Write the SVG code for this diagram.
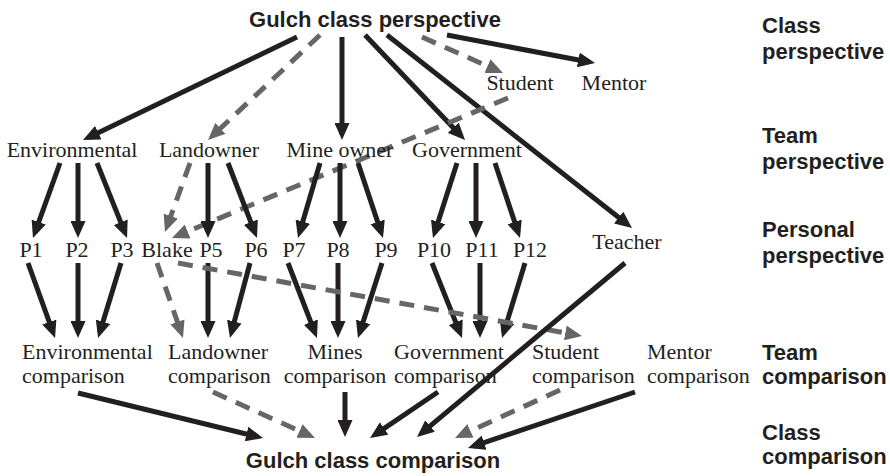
<svg xmlns="http://www.w3.org/2000/svg" width="890" height="476" viewBox="0 0 890 476">
<style>
.n{font-family:"Liberation Serif","Times New Roman",serif;font-size:22px;fill:#231f20}
.h{font-family:"Liberation Sans",Arial,sans-serif;font-size:22px;font-weight:bold;fill:#231f20}
.s{stroke:#231f20;stroke-width:5;fill:none;marker-end:url(#ab)}
.d{stroke:#666;stroke-width:5;fill:none;stroke-dasharray:15 10;marker-end:url(#ag)}
</style>
<defs>
<marker id="ab" markerUnits="userSpaceOnUse" viewBox="0 0 17 15" markerWidth="17" markerHeight="15" refX="11" refY="7.5" orient="auto"><path d="M0,0 L17,7.5 L0,15 z" fill="#231f20"/></marker>
<marker id="ag" markerUnits="userSpaceOnUse" viewBox="0 0 17 15" markerWidth="17" markerHeight="15" refX="11" refY="7.5" orient="auto"><path d="M0,0 L17,7.5 L0,15 z" fill="#666"/></marker>
</defs>
<rect width="890" height="476" fill="#fff"/>
<g id="connectors">
<line class="s" x1="297" y1="37" x2="88.4" y2="137.4"/>
<line class="d" x1="320" y1="35" x2="212.4" y2="135.9"/>
<line class="s" x1="342" y1="37" x2="342" y2="134"/>
<line class="s" x1="365" y1="35" x2="460.9" y2="135.7"/>
<line class="s" x1="387" y1="35" x2="627.3" y2="224.3"/>
<line class="d" x1="422" y1="37" x2="497.5" y2="70.6"/>
<line class="s" x1="447" y1="35" x2="589.1" y2="62"/>
<line class="d" x1="508" y1="98" x2="177.5" y2="235.7"/>
<line class="d" x1="190" y1="163" x2="167" y2="226.4"/>
<line class="s" x1="60" y1="163" x2="35" y2="232.4"/>
<line class="s" x1="78" y1="163" x2="78" y2="232"/>
<line class="s" x1="97" y1="163" x2="124.8" y2="232.4"/>
<line class="s" x1="208" y1="163" x2="208" y2="232"/>
<line class="s" x1="228" y1="163" x2="254.8" y2="232.4"/>
<line class="s" x1="320" y1="163" x2="299.7" y2="232.2"/>
<line class="s" x1="340" y1="163" x2="340" y2="232"/>
<line class="s" x1="358" y1="163" x2="381.1" y2="232.3"/>
<line class="s" x1="457" y1="163" x2="434.8" y2="232.3"/>
<line class="s" x1="476" y1="163" x2="476" y2="232"/>
<line class="s" x1="495" y1="163" x2="518.1" y2="232.3"/>
<line class="s" x1="28" y1="263" x2="53" y2="332.4"/>
<line class="s" x1="78" y1="263" x2="78" y2="332"/>
<line class="s" x1="121" y1="263" x2="99.8" y2="332.3"/>
<line class="d" x1="157" y1="263" x2="181" y2="332.3"/>
<line class="s" x1="208" y1="263" x2="208" y2="332"/>
<line class="s" x1="250" y1="263" x2="231.5" y2="332.2"/>
<line class="s" x1="288" y1="263" x2="314.8" y2="332.4"/>
<line class="s" x1="338" y1="263" x2="338" y2="332"/>
<line class="s" x1="382" y1="263" x2="359.8" y2="332.3"/>
<line class="s" x1="432" y1="263" x2="459.8" y2="332.4"/>
<line class="s" x1="480" y1="263" x2="480" y2="332"/>
<line class="s" x1="525" y1="263" x2="503.8" y2="332.3"/>
<line class="d" x1="178" y1="263" x2="576.1" y2="334.9"/>
<line class="s" x1="625" y1="263" x2="421.6" y2="433.1"/>
<line class="s" x1="78" y1="393" x2="257.2" y2="436.6"/>
<line class="d" x1="213" y1="392" x2="309.5" y2="435.5"/>
<line class="s" x1="345" y1="392" x2="345" y2="431"/>
<line class="s" x1="438" y1="392" x2="375" y2="434.6"/>
<line class="d" x1="560" y1="390" x2="460.5" y2="435.5"/>
<line class="s" x1="635" y1="392" x2="473.7" y2="446.1"/>
</g>
<g id="gulch-class-perspective"><text class="h" x="375" y="27" text-anchor="middle">Gulch class perspective</text></g>
<g id="student"><text class="n" x="520" y="90" text-anchor="middle">Student</text></g>
<g id="mentor"><text class="n" x="614" y="90" text-anchor="middle">Mentor</text></g>
<g id="environmental"><text class="n" x="72" y="157" text-anchor="middle">Environmental</text></g>
<g id="landowner"><text class="n" x="209" y="157" text-anchor="middle">Landowner</text></g>
<g id="mine-owner"><text class="n" x="340" y="157" text-anchor="middle">Mine owner</text></g>
<g id="government"><text class="n" x="467" y="157" text-anchor="middle">Government</text></g>
<g id="p1"><text class="n" x="31" y="257" text-anchor="middle">P1</text></g>
<g id="p2"><text class="n" x="77" y="257" text-anchor="middle">P2</text></g>
<g id="p3"><text class="n" x="122" y="257" text-anchor="middle">P3</text></g>
<g id="blake"><text class="n" x="167" y="257" text-anchor="middle">Blake</text></g>
<g id="p5"><text class="n" x="211" y="257" text-anchor="middle">P5</text></g>
<g id="p6"><text class="n" x="256" y="257" text-anchor="middle">P6</text></g>
<g id="p7"><text class="n" x="294" y="257" text-anchor="middle">P7</text></g>
<g id="p8"><text class="n" x="338" y="257" text-anchor="middle">P8</text></g>
<g id="p9"><text class="n" x="386" y="257" text-anchor="middle">P9</text></g>
<g id="p10"><text class="n" x="434" y="257" text-anchor="middle">P10</text></g>
<g id="p11"><text class="n" x="482" y="257" text-anchor="middle">P11</text></g>
<g id="p12"><text class="n" x="530" y="257" text-anchor="middle">P12</text></g>
<g id="teacher"><text class="n" x="627" y="249" text-anchor="middle">Teacher</text></g>
<g id="environmental-comparison"><text class="n" x="22" y="359">Environmental</text><text class="n" x="22" y="383">comparison</text></g>
<g id="landowner-comparison"><text class="n" x="168" y="359">Landowner</text><text class="n" x="168" y="383">comparison</text></g>
<g id="mines-comparison"><text class="n" x="335" y="359" text-anchor="middle">Mines</text><text class="n" x="335" y="383" text-anchor="middle">comparison</text></g>
<g id="government-comparison"><text class="n" x="394" y="359">Government</text><text class="n" x="394" y="383">comparison</text></g>
<g id="student-comparison"><text class="n" x="532" y="359">Student</text><text class="n" x="532" y="383">comparison</text></g>
<g id="mentor-comparison"><text class="n" x="647" y="359">Mentor</text><text class="n" x="647" y="383">comparison</text></g>
<g id="gulch-class-comparison"><text class="h" x="373" y="468" text-anchor="middle">Gulch class comparison</text></g>
<g id="level-labels">
<text class="h" x="762" y="33">Class</text><text class="h" x="762" y="59">perspective</text>
<text class="h" x="762" y="143">Team</text><text class="h" x="762" y="169">perspective</text>
<text class="h" x="762" y="237">Personal</text><text class="h" x="762" y="263">perspective</text>
<text class="h" x="762" y="360">Team</text><text class="h" x="762" y="384">comparison</text>
<text class="h" x="762" y="440">Class</text><text class="h" x="762" y="464">comparison</text>
</g>
</svg>
